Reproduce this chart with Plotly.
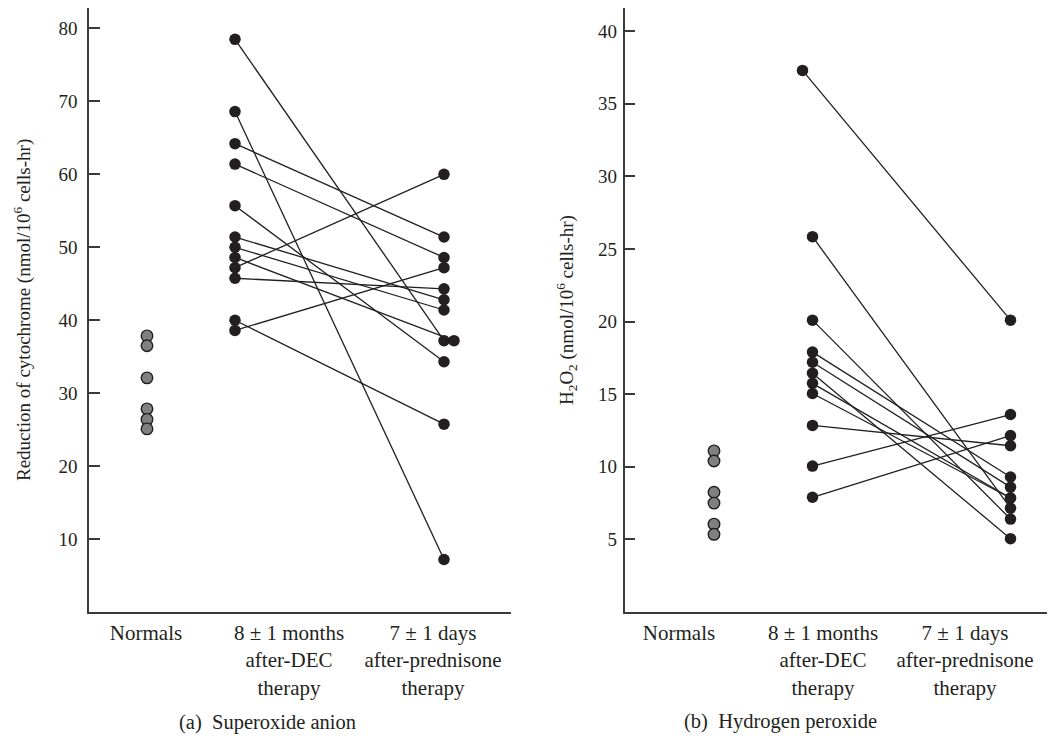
import plotly.graph_objects as go

# ---------------- data ----------------
categories = ["Normals", "8 ± 1 months<br>after-DEC<br>therapy", "7 ± 1 days<br>after-prednisone<br>therapy"]

# (a) Superoxide anion
a_normals = [37.85, 36.5, 32.1, 27.85, 26.4, 25.1]
a_dec = [78.5, 68.6, 64.2, 61.4, 55.7, 51.4, 50.0, 48.6, 47.2, 45.75, 40.0, 38.6]
a_pred = [37.2, 7.2, 51.4, 48.6, 34.3, 42.8, 41.4, 37.2, 60.0, 44.3, 25.75, 47.2]
a_yticks = [10, 20, 30, 40, 50, 60, 70, 80]

# (b) Hydrogen peroxide
b_normals = [11.1, 10.4, 8.25, 7.5, 6.05, 5.35]
b_dec = [37.3, 25.85, 20.1, 17.9, 17.2, 16.45, 15.75, 15.05, 12.85, 10.05, 7.9]
b_pred = [20.1, 7.15, 6.4, 9.3, 8.6, 5.05, 7.85, 7.85, 11.45, 13.6, 12.15]
b_yticks = [5, 10, 15, 20, 25, 30, 35, 40]

# ---------------- layout constants ----------------
W, H = 1052, 736
INK = "#231f20"
GRAY = "#808080"
FONT = "Liberation Serif"

# x positions (px from axis) of point groups and of category labels
A_POS = {"norm": 58, "dec": 146, "pred": 355}
A_DEC_JIT = [0] * len(a_dec)
A_PRED_JIT = [0, 0, 0, 0, 0, 0, 0, 10, 0, 0, 0, 0]
A_LABEL_POS = [57, 200, 344]
A_XRANGE = [0, 422]

B_POS = {"norm": 89.5, "dec": 188, "pred": 386}
B_DEC_JIT = [-10] + [0] * (len(b_dec) - 1)
B_PRED_JIT = [0] * len(b_pred)
B_LABEL_POS = [54.5, 198.5, 340.5]
B_XRANGE = [0, 422.5]

fig = go.Figure()


def add_panel(xa, ya, pos, normals, dec, pred, dec_jit, pred_jit):
    lx, ly = [], []
    for d, p, jd, jp in zip(dec, pred, dec_jit, pred_jit):
        lx += [pos["dec"] + jd, pos["pred"] + jp, None]
        ly += [d, p, None]
    fig.add_trace(go.Scatter(x=lx, y=ly, mode="lines", xaxis=xa, yaxis=ya,
                             line=dict(color=INK, width=1.3), hoverinfo="skip",
                             showlegend=False))
    fig.add_trace(go.Scatter(x=[pos["dec"] + j for j in dec_jit] + [pos["pred"] + j for j in pred_jit],
                             y=list(dec) + list(pred), mode="markers", xaxis=xa, yaxis=ya,
                             marker=dict(color=INK, size=11.5, line=dict(width=0)),
                             showlegend=False))
    fig.add_trace(go.Scatter(x=[pos["norm"]] * len(normals), y=normals, mode="markers",
                             xaxis=xa, yaxis=ya,
                             marker=dict(color=GRAY, size=11.5, line=dict(color=INK, width=1.4)),
                             showlegend=False))


add_panel("x", "y", A_POS, a_normals, a_dec, a_pred, A_DEC_JIT, A_PRED_JIT)
add_panel("x2", "y2", B_POS, b_normals, b_dec, b_pred, B_DEC_JIT, B_PRED_JIT)

axis_common = dict(showline=True, linecolor="#3a3a3a", linewidth=1.5, showgrid=False,
                   zeroline=False, mirror=False)
xtick_font = dict(family=FONT, size=21, color=INK)
ytick_font = dict(family=FONT, size=19, color=INK)

fig.update_layout(
    width=W, height=H,
    margin=dict(l=0, r=0, t=8, b=124),
    plot_bgcolor="white", paper_bgcolor="white",
    showlegend=False,
    xaxis=dict(domain=[89 / W, 511 / W], range=A_XRANGE, tickmode="array",
               tickvals=A_LABEL_POS, ticktext=categories, ticks="",
               tickfont=xtick_font, ticklabelstandoff=1, **axis_common),
    yaxis=dict(domain=[0, 1], range=[0, 82.8], tickmode="array", tickvals=a_yticks,
               ticks="inside", ticklen=11, tickwidth=1.5, tickcolor="#3a3a3a",
               tickfont=ytick_font, ticklabelstandoff=6, **axis_common),
    xaxis2=dict(domain=[624.5 / W, 1047 / W], range=B_XRANGE, tickmode="array",
                tickvals=B_LABEL_POS, ticktext=categories, ticks="", anchor="y2",
                tickfont=xtick_font, ticklabelstandoff=1, **axis_common),
    yaxis2=dict(domain=[0, 1], range=[0, 41.6], tickmode="array", tickvals=b_yticks,
                anchor="x2", ticks="inside", ticklen=11, tickwidth=1.5, tickcolor="#3a3a3a",
                tickfont=ytick_font, ticklabelstandoff=2, **axis_common),
)

ann_font = dict(family=FONT, size=19, color=INK)
cap_font = dict(family=FONT, size=20.5, color=INK)
fig.add_annotation(text="Reduction of cytochrome (nmol/10<sup>6</sup> cells-hr)",
                   xref="paper", yref="paper", x=22 / W, y=0.5, textangle=-90,
                   showarrow=False, font=ann_font, xanchor="center", yanchor="middle")
fig.add_annotation(text="H<sub>2</sub>O<sub>2</sub> (nmol/10<sup>6</sup> cells-hr)",
                   xref="paper", yref="paper", x=566 / W, y=0.5, textangle=-90,
                   showarrow=False, font=ann_font, xanchor="center", yanchor="middle")
fig.add_annotation(text="(a)&nbsp; Superoxide anion", xref="paper", yref="paper",
                   x=267 / W, y=-(722 - 612) / 604, showarrow=False, font=cap_font,
                   xanchor="center", yanchor="middle")
fig.add_annotation(text="(b)&nbsp; Hydrogen peroxide", xref="paper", yref="paper",
                   x=780 / W, y=-(721 - 612) / 604, showarrow=False, font=cap_font,
                   xanchor="center", yanchor="middle")

fig.write_html("out.html", config={"displayModeBar": False},
               post_script="document.body.style.margin='0';document.body.style.padding='0';")
